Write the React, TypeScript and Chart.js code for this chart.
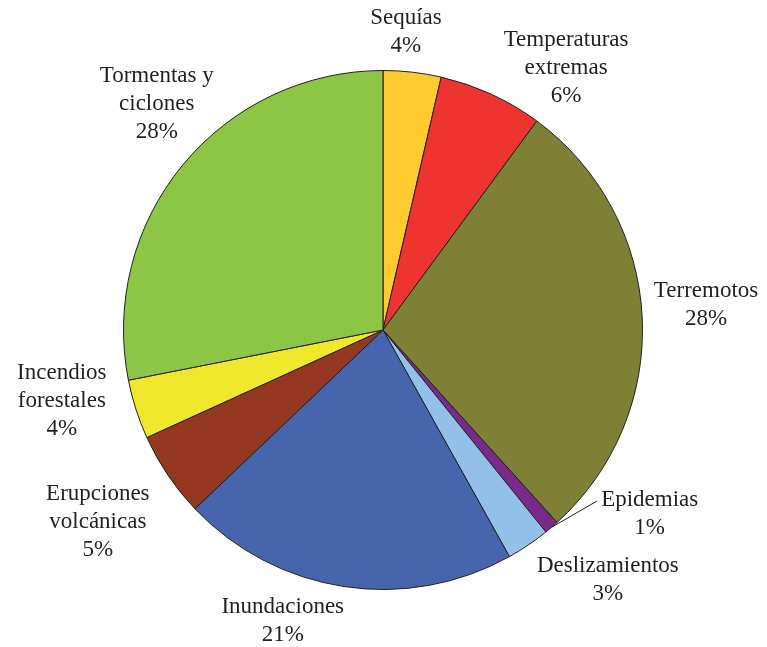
import React, { useEffect, useRef } from "react";
import { Chart, registerables } from "chart.js";

Chart.register(...registerables);

const categories = [
  ["Sequías"],
  ["Temperaturas", "extremas"],
  ["Terremotos"],
  ["Epidemias"],
  ["Deslizamientos"],
  ["Inundaciones"],
  ["Erupciones", "volcánicas"],
  ["Incendios", "forestales"],
  ["Tormentas y", "ciclones"],
];
const values = [3.6, 6.5, 28.2, 0.9, 2.7, 21.0, 5.3, 3.7, 28.1];
const percentLabels = ["4%", "6%", "28%", "1%", "3%", "21%", "5%", "4%", "28%"];
const colors = [
  "#FFCA2E",
  "#EE342E",
  "#7E8035",
  "#7B2A8C",
  "#92C0E8",
  "#4665AD",
  "#943821",
  "#EEE72C",
  "#8DC544",
];

// label placement (angle from 12 o'clock in degrees, distance from centre in px)
const labelAngles = [4.4, 34.9, 85.6, 124.6, 138, 199, 236, 257.5, 315];
const labelDistances = [299, 320, 324, 324, 336, 308, 344, 329, 320];
const leaderIndex = 3;

const labelPlugin = {
  id: "sliceLabels",
  afterDraw(chart: any) {
    const ctx = chart.ctx;
    const meta = chart.getDatasetMeta(0);
    ctx.save();
    ctx.font = '23px "Liberation Serif", "Times New Roman", serif';
    ctx.fillStyle = "#231F20";
    ctx.textAlign = "center";
    ctx.textBaseline = "middle";
    const lineH = 28;
    meta.data.forEach((arc: any, i: number) => {
      const cx = arc.x;
      const cy = arc.y;
      const a = (labelAngles[i] * Math.PI) / 180;
      const lx = cx + Math.sin(a) * labelDistances[i];
      const ly = cy - Math.cos(a) * labelDistances[i];
      const lines = [...categories[i], percentLabels[i]];
      const top = ly - ((lines.length - 1) * lineH) / 2;
      lines.forEach((t, k) => ctx.fillText(t, lx, top + k * lineH));
      if (i === leaderIndex) {
        const mid = (arc.startAngle + arc.endAngle) / 2;
        const sx = cx + Math.cos(mid) * arc.outerRadius;
        const sy = cy + Math.sin(mid) * arc.outerRadius;
        const w = ctx.measureText(lines[0]).width;
        ctx.beginPath();
        ctx.strokeStyle = "#231F20";
        ctx.lineWidth = 1;
        ctx.moveTo(sx, sy);
        ctx.lineTo(lx - w / 2 - 4, top + 1);
        ctx.stroke();
      }
    });
    ctx.restore();
  },
};

export default function App() {
  const ref = useRef<HTMLCanvasElement>(null);
  useEffect(() => {
    if (!ref.current) return;
    const chart = new Chart(ref.current, {
      type: "pie",
      data: {
        labels: categories.map((c) => c.join(" ")),
        datasets: [
          {
            data: values,
            backgroundColor: colors,
            borderColor: "#231F20",
            borderWidth: 1,
          },
        ],
      },
      options: {
        responsive: false,
        animation: false,
        layout: { padding: { top: 70, bottom: 57, left: 123, right: 124 } },
        plugins: {
          legend: { display: false },
          tooltip: { enabled: false },
        },
      },
      plugins: [labelPlugin],
    });
    return () => chart.destroy();
  }, []);
  return (
    <div style={{ position: "absolute", left: 0, top: 0, width: 767, height: 647, background: "#fff" }}>
      <canvas ref={ref} width={767} height={647} />
    </div>
  );
}
